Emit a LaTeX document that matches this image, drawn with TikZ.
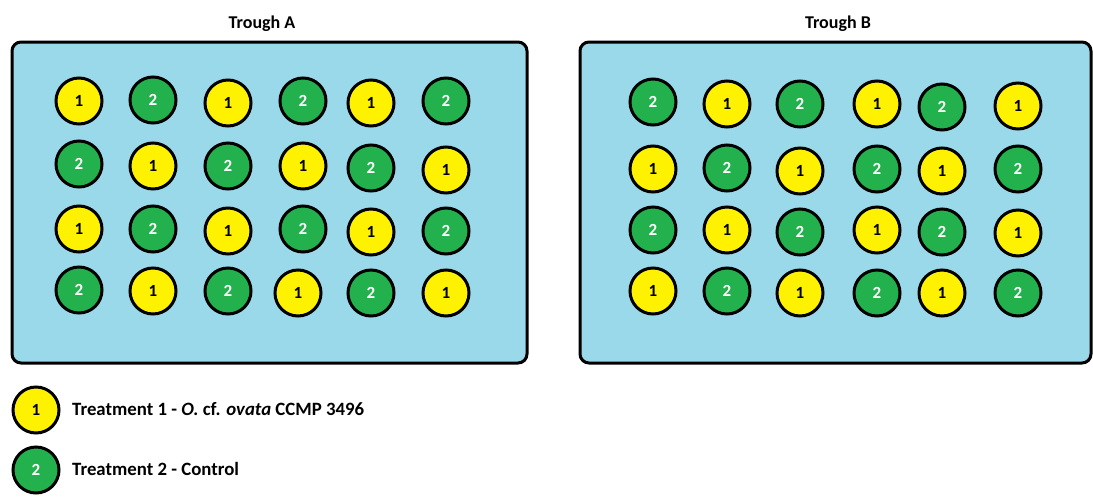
\documentclass[tikz,border=0pt]{standalone}
\usepackage{fontspec}
\setmainfont{Carlito}
\usepackage{tikz}
\usepackage{xcolor}

\definecolor{wellyellow}{RGB}{255,242,0}
\definecolor{wellgreen}{RGB}{34,177,76}
\definecolor{troughblue}{RGB}{153,217,234}

\begin{document}
\begin{tikzpicture}[x=1pt, y=-1pt,
    every node/.style={inner sep=0pt},
    trough/.style={draw=black, line width=3pt, fill=troughblue, rounded corners=9pt},
    wellone/.style={draw=black, line width=3pt, circle, minimum size=46pt, fill=wellyellow, text=black, font=\fontsize{17}{17}\selectfont\bfseries},
    welltwo/.style={draw=black, line width=3pt, circle, minimum size=46pt, fill=wellgreen, text=white, font=\fontsize{17}{17}\selectfont\bfseries},
    title/.style={font=\fontsize{18}{18}\selectfont\bfseries},
    legend/.style={anchor=west, font=\fontsize{18.8}{19}\selectfont\bfseries}]
        \useasboundingbox (0,0) rectangle (1093,496);

        % Troughs
        \draw[trough] (12,42) rectangle (527,363);
        \draw[trough] (580,42) rectangle (1091,363);
        \node[title] (titleA) at (262,24) {Trough A};
        \node[title] (titleB) at (838,24) {Trough B};

        % Trough A
        \node[wellone] (A11) at (79,101) {1};
        \node[welltwo] (A12) at (153,100) {2};
        \node[wellone] (A13) at (228,103) {1};
        \node[welltwo] (A14) at (303,101) {2};
        \node[wellone] (A15) at (371,103) {1};
        \node[welltwo] (A16) at (446,101) {2};
        \node[welltwo] (A21) at (79,164) {2};
        \node[wellone] (A22) at (153,166) {1};
        \node[welltwo] (A23) at (228,166) {2};
        \node[wellone] (A24) at (303,166) {1};
        \node[welltwo] (A25) at (371,168) {2};
        \node[wellone] (A26) at (446,170) {1};
        \node[wellone] (A31) at (79,229) {1};
        \node[welltwo] (A32) at (153,229) {2};
        \node[wellone] (A33) at (228,231) {1};
        \node[welltwo] (A34) at (303,229) {2};
        \node[wellone] (A35) at (371,232) {1};
        \node[welltwo] (A36) at (446,231) {2};
        \node[welltwo] (A41) at (79,290) {2};
        \node[wellone] (A42) at (153,291) {1};
        \node[welltwo] (A43) at (228,291) {2};
        \node[wellone] (A44) at (298,293) {1};
        \node[welltwo] (A45) at (371,293) {2};
        \node[wellone] (A46) at (446,293) {1};

        % Trough B
        \node[welltwo] (B11) at (653,102) {2};
        \node[wellone] (B12) at (727,104) {1};
        \node[welltwo] (B13) at (800,104) {2};
        \node[wellone] (B14) at (877,104) {1};
        \node[welltwo] (B15) at (942,107) {2};
        \node[wellone] (B16) at (1018,106) {1};
        \node[wellone] (B21) at (653,169) {1};
        \node[welltwo] (B22) at (727,168) {2};
        \node[wellone] (B23) at (800,171) {1};
        \node[welltwo] (B24) at (877,169) {2};
        \node[wellone] (B25) at (942,171) {1};
        \node[welltwo] (B26) at (1018,169) {2};
        \node[welltwo] (B31) at (653,230) {2};
        \node[wellone] (B32) at (727,230) {1};
        \node[welltwo] (B33) at (800,232) {2};
        \node[wellone] (B34) at (877,230) {1};
        \node[welltwo] (B35) at (942,232) {2};
        \node[wellone] (B36) at (1018,233) {1};
        \node[wellone] (B41) at (653,291) {1};
        \node[welltwo] (B42) at (727,291) {2};
        \node[wellone] (B43) at (800,293) {1};
        \node[welltwo] (B44) at (877,293) {2};
        \node[wellone] (B45) at (942,293) {1};
        \node[welltwo] (B46) at (1018,293) {2};

        % Legend
        \node[wellone] (key1) at (36,410) {1};
        \node[welltwo] (key2) at (36,470) {2};
        \node[legend] (keytext1) at (72,409) {Treatment 1 - \textit{O.} cf. \textit{ovata} CCMP 3496};
        \node[legend] (keytext2) at (72,469) {Treatment 2 - Control};
    \end{tikzpicture}
\end{document}
